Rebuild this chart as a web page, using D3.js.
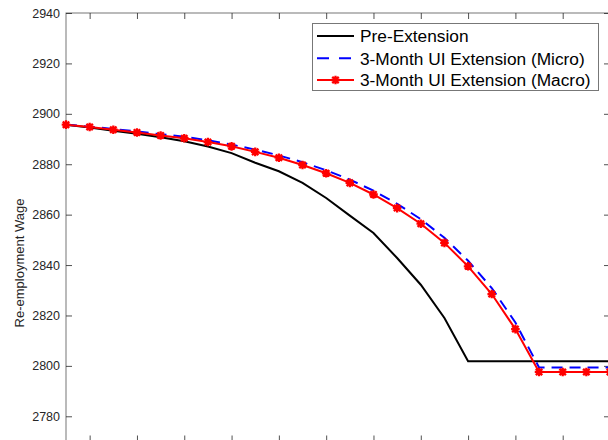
<!DOCTYPE html>
<html><head><meta charset="utf-8">
<script src="https://cdn.jsdelivr.net/npm/d3@7"></script>
<style>html,body{margin:0;padding:0;background:#fff;overflow:hidden}svg{display:block}</style>
</head><body>
<svg id="chart" width="608" height="440"></svg>
<script>
// Periods (x) — one observation per period
const periods = d3.range(1, 25);
const preExtension = [2895.7,2894.6,2893.3,2892.1,2890.7,2889.1,2887.0,2884.4,2880.6,2877.2,2872.6,2866.6,2859.6,2852.7,2842.8,2832.2,2819.0,2801.8,2801.8,2801.8,2801.8,2801.8,2801.8,2801.8];
const microExt = [2895.7,2894.9,2894.0,2893.0,2891.9,2890.9,2889.5,2887.8,2885.8,2883.5,2880.8,2877.6,2873.9,2869.5,2864.3,2858.2,2850.8,2841.7,2830.9,2817.2,2799.4,2799.4,2799.4,2799.4];
const macroExt = [2895.7,2894.8,2893.7,2892.6,2891.4,2890.3,2888.8,2887.1,2884.9,2882.6,2879.7,2876.4,2872.6,2868.0,2862.6,2856.4,2848.8,2839.5,2828.5,2814.6,2797.6,2797.6,2797.6,2797.6];
const seriesNames = ["Pre-Extension","3-Month UI Extension (Micro)","3-Month UI Extension (Macro)"];
const yTicks = [2780,2800,2820,2840,2860,2880,2900,2920,2940];
const xTicks = [2,4,6,8,10,12,14,16,18,20,22,24];
const yLabel = "Re-employment Wage";

const svg = d3.select("#chart");
const mL = 66, mR = 610, mT = 13, mB = 441.5;
const x = d3.scaleLinear().domain([1, 24]).range([mL, mR]);
const y = d3.scaleLinear().domain([2770, 2940]).range([mB, mT]);
const axisCol = "#262626";
const font = "'Liberation Sans', Arial, sans-serif";

// axes box
svg.append("rect").attr("x", mL).attr("y", mT).attr("width", mR-mL).attr("height", mB-mT)
  .attr("fill", "none").attr("stroke", "#777").attr("stroke-width", 1);

const gL = svg.append("g").attr("transform", `translate(${mL},0)`)
  .call(d3.axisLeft(y).tickValues(yTicks).tickFormat(d3.format("d")).tickSizeInner(-6).tickSizeOuter(0).tickPadding(6));
const gR = svg.append("g").attr("transform", `translate(${mR},0)`)
  .call(d3.axisRight(y).tickValues(yTicks).tickFormat("").tickSizeInner(-6).tickSizeOuter(0));
const gT = svg.append("g").attr("transform", `translate(0,${mT})`)
  .call(d3.axisTop(x).tickValues(xTicks).tickFormat("").tickSizeInner(-6).tickSizeOuter(0));
const gB = svg.append("g").attr("transform", `translate(0,${mB})`)
  .call(d3.axisBottom(x).tickValues(xTicks).tickFormat("").tickSizeInner(-6).tickSizeOuter(0));
[gL, gR, gT, gB].forEach(g => {
  g.select(".domain").remove();
  g.selectAll(".tick line").attr("stroke", axisCol).attr("stroke-width", 1).attr("opacity", 0.8);
  g.selectAll("text").attr("fill", axisCol).style("font-family", font).style("font-size", "12.5px");
});

svg.append("text").attr("transform", "translate(24,263) rotate(-90)")
  .attr("text-anchor", "middle").style("font-family", font).style("font-size", "13px")
  .attr("fill", axisCol).text(yLabel);

const line = d3.line().x((d, i) => x(periods[i])).y(d => y(d));

svg.append("path").datum(preExtension).attr("d", line).attr("fill", "none")
  .attr("stroke", "#000").attr("stroke-width", 2);
svg.append("path").datum(microExt).attr("d", line).attr("fill", "none")
  .attr("stroke", "#0000ff").attr("stroke-width", 2).attr("stroke-dasharray", "11,7");
svg.append("path").datum(macroExt).attr("d", line).attr("fill", "none")
  .attr("stroke", "#ff0000").attr("stroke-width", 2);

const star = "M-4.3,0L4.3,0M0,-4.3L0,4.3M-3.2,-3.2L3.2,3.2M-3.2,3.2L3.2,-3.2";
svg.append("g").selectAll("path").data(macroExt).join("path")
  .attr("transform", (d, i) => `translate(${x(periods[i])},${y(d)})`)
  .attr("d", star).attr("stroke", "#ff0000").attr("stroke-width", 2.3).attr("fill", "none");

// legend
const lg = svg.append("g");
lg.append("rect").attr("x", 312.5).attr("y", 23.5).attr("width", 286).attr("height", 67)
  .attr("fill", "#fff").attr("stroke", "#777").attr("stroke-width", 1);
const rows = [36, 58.3, 80];
const styles = [
  {c: "#000", dash: null},
  {c: "#0000ff", dash: "12,10"},
  {c: "#ff0000", dash: null, marker: true}
];
seriesNames.forEach((name, i) => {
  const l = lg.append("line").attr("x1", 317).attr("x2", 354).attr("y1", rows[i]).attr("y2", rows[i])
    .attr("stroke", styles[i].c).attr("stroke-width", 2);
  if (styles[i].dash) l.attr("stroke-dasharray", styles[i].dash);
  if (styles[i].marker) lg.append("path").attr("transform", `translate(335.5,${rows[i]})`)
    .attr("d", star).attr("stroke", "#ff0000").attr("stroke-width", 2.3);
  lg.append("text").attr("x", 360).attr("y", rows[i]).attr("dy", "0.36em")
    .style("font-family", font).style("font-size", "17.3px").attr("fill", "#000").text(name);
});
</script>
</body></html>
